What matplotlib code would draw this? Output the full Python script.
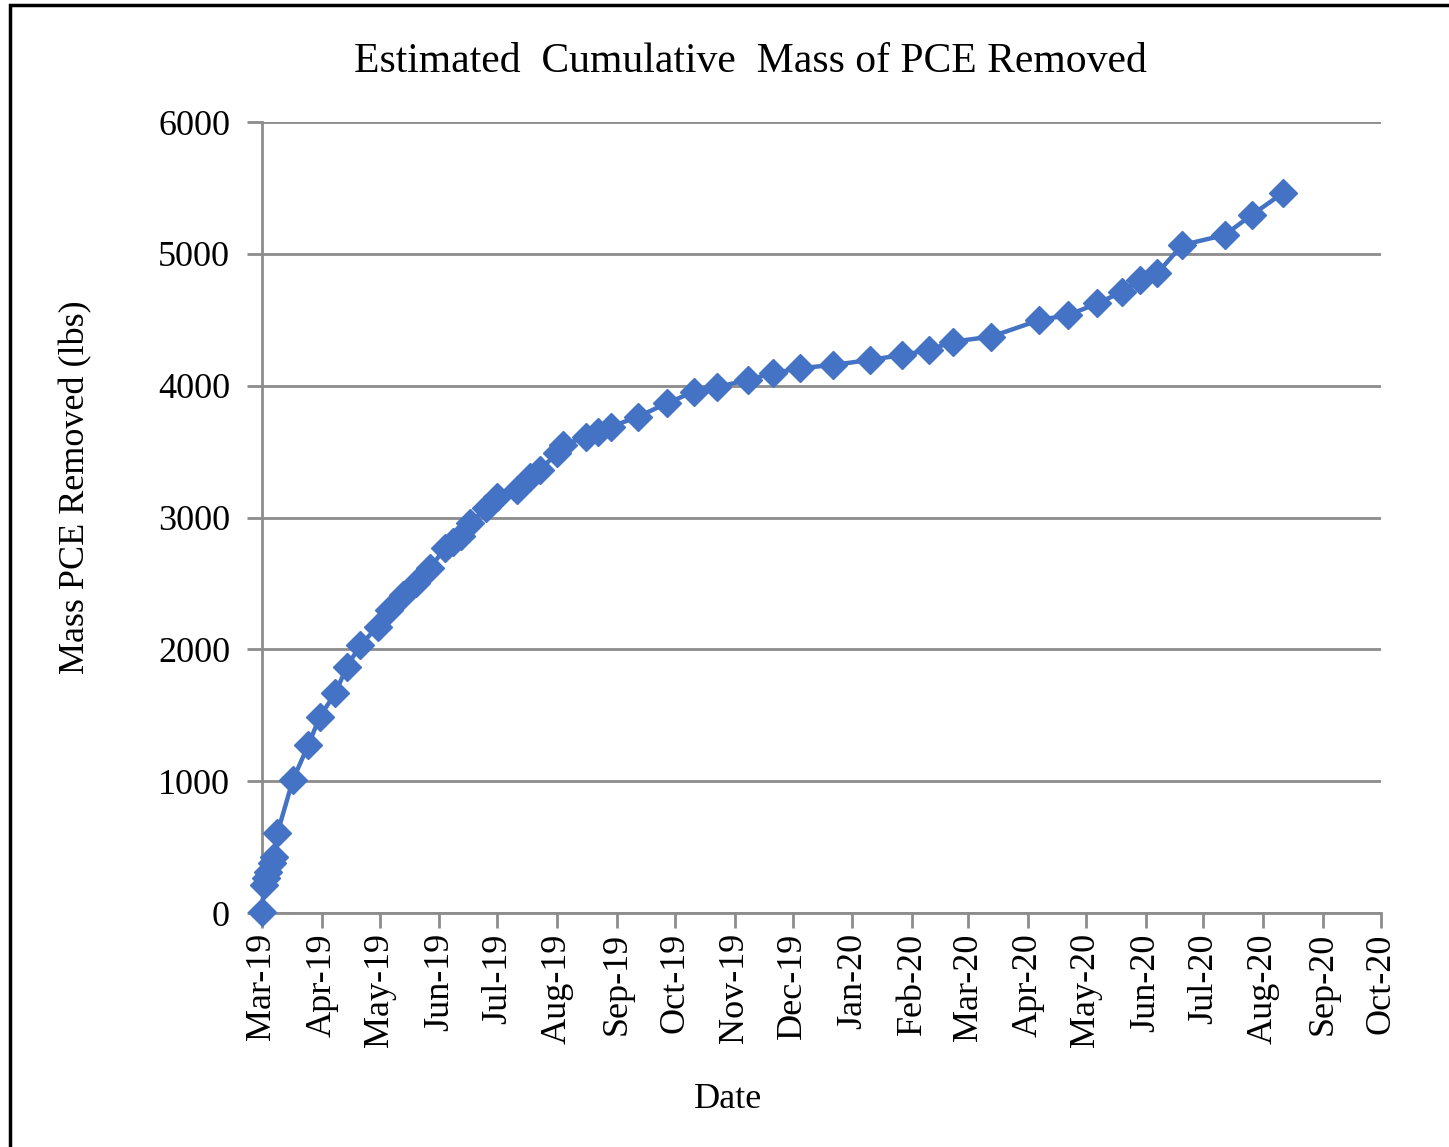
import numpy as np
import matplotlib.pyplot as plt
import matplotlib.dates as mdates
from matplotlib.patches import Rectangle

# Data
dates = ['2019-03-01', '2019-03-02', '2019-03-03', '2019-03-04', '2019-03-06',
         '2019-03-07', '2019-03-09', '2019-03-17', '2019-03-25', '2019-03-31',
         '2019-04-08', '2019-04-14', '2019-04-21', '2019-04-30', '2019-05-06',
         '2019-05-13', '2019-05-20', '2019-05-27', '2019-06-04', '2019-06-08',
         '2019-06-12', '2019-06-17', '2019-06-25', '2019-07-01', '2019-07-11',
         '2019-07-18', '2019-07-23', '2019-08-01', '2019-08-04', '2019-08-16',
         '2019-08-22', '2019-08-29', '2019-09-12', '2019-09-27', '2019-10-11',
         '2019-10-23', '2019-11-08', '2019-11-21', '2019-12-05', '2019-12-22',
         '2020-01-10', '2020-01-27', '2020-02-10', '2020-02-22', '2020-03-13',
         '2020-04-07', '2020-04-22', '2020-05-07', '2020-05-20', '2020-05-29',
         '2020-06-07', '2020-06-20', '2020-07-12', '2020-07-26', '2020-08-11']
mass = [10, 212, 265, 313, 380, 427, 606, 1009, 1274, 1489,
        1668, 1868, 2033, 2172, 2298, 2412, 2503, 2615, 2770, 2817,
        2861, 2958, 3071, 3158, 3209, 3310, 3361, 3489, 3550, 3613,
        3651, 3689, 3765, 3868, 3955, 3990, 4044, 4095, 4133, 4157,
        4195, 4233, 4271, 4334, 4372, 4498, 4536, 4624, 4713, 4802,
        4852, 5067, 5143, 5295, 5459]

x = np.array(dates, dtype='datetime64[D]')
month_ticks = np.arange(np.datetime64('2019-03'), np.datetime64('2020-11'),
                        dtype='datetime64[M]').astype('datetime64[D]')

plt.rcParams['font.family'] = ['Liberation Serif', 'DejaVu Serif']

fig = plt.figure(figsize=(14.49, 11.47), dpi=100)
ax = fig.add_axes([0.1808, 0.204, 0.7722, 0.6896])

# outer frame
fig.patches.append(Rectangle((10 / 1449, -0.01), 1.0, 1 - 5 / 1147 + 0.01,
                             transform=fig.transFigure, fill=False,
                             edgecolor='black', linewidth=2.5))

ax.plot(x, mass, color='#4472C4', linewidth=3.2, marker='D', markersize=14,
        clip_on=False, zorder=3)

ax.set_xlim(month_ticks[0], month_ticks[-1])
ax.set_ylim(0, 6000)
ax.set_yticks(np.arange(0, 6001, 1000))
ax.set_xticks(month_ticks)
ax.xaxis.set_major_formatter(mdates.DateFormatter('%b-%y'))
plt.setp(ax.get_xticklabels(), rotation=90)

ax.grid(axis='y', color='#8c8c8c', linewidth=2)
ax.set_axisbelow(True)
for s in ['top', 'right']:
    ax.spines[s].set_visible(False)
for s in ['left', 'bottom']:
    ax.spines[s].set_color('#8c8c8c')
    ax.spines[s].set_linewidth(2)
ax.tick_params(axis='both', labelsize=26, color='#8c8c8c', width=2, length=11)
ax.tick_params(axis='y', pad=12)

fig.text(750 / 1449, 1 - 62 / 1147, 'Estimated  Cumulative  Mass of PCE Removed',
         fontsize=30, ha='center', va='center')
fig.text(728 / 1449, 1 - 1100 / 1147, 'Date', fontsize=26, ha='center', va='center')
fig.text(76 / 1449, 1 - 487 / 1147, 'Mass PCE Removed (lbs)', fontsize=26,
         rotation=90, ha='center', va='center')

fig.savefig('out.png', dpi=100)
